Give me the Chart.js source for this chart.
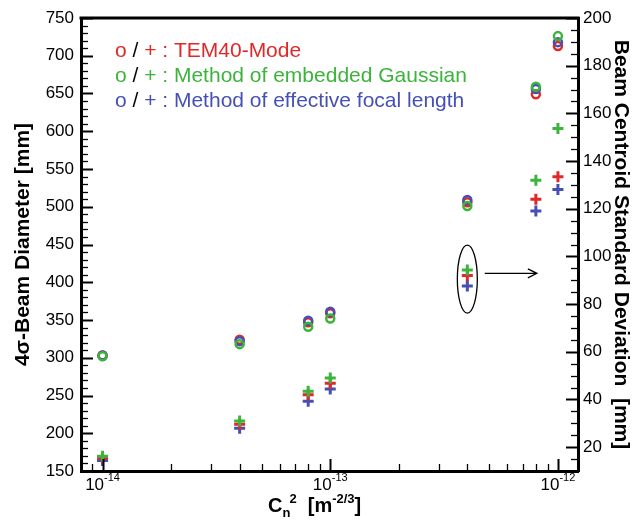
<!DOCTYPE html>
<html>
<head>
<meta charset="utf-8">
<script src="https://cdn.jsdelivr.net/npm/chart.js@4.4.1/dist/chart.umd.min.js"></script>
<style>
    html, body { margin: 0; padding: 0; background: #fff; }
</style>
</head>
<body>
<canvas id="beamGraph" width="633" height="520"></canvas>
<script>
    // Cn^2 values (m^-2/3)
    const cn2 = [1e-14, 4e-14, 8e-14, 1e-13, 4e-13, 8e-13, 1e-12];

    // 4-sigma beam diameter (mm), left axis
    const diamTEM = [303, 324, 347, 359, 506, 649, 713];
    const diamGauss = [302, 318, 341, 352, 501, 659, 726];
    const diamFocal = [303, 322, 349, 361, 509, 656, 718];

    // beam centroid standard deviation (mm), right axis
    const sdTEM = [15.3, 29.6, 42, 46.8, 92, 124, 133.4];
    const sdGauss = [16.2, 31, 43.5, 49, 94.3, 132, 153.7];
    const sdFocal = [14.4, 27.9, 39.3, 44.4, 87.6, 119, 128.1];

    const diamTicks = [150, 200, 250, 300, 350, 400, 450, 500, 550, 600, 650, 700, 750];
    const sdTicks = [20, 40, 60, 80, 100, 120, 140, 160, 180, 200];
    const cnDecades = [1e-14, 1e-13, 1e-12];
    const cnExponents = ['-14', '-13', '-12'];

    const legendLines = [
        { color: '#e02828', text: ': TEM40-Mode' },
        { color: '#3cb43c', text: ': Method of embedded Gaussian' },
        { color: '#4650b4', text: ': Method of effective focal length' }
    ];

    // callout around the 4e-13 crosses
    const calloutCn2 = 4e-13, calloutSd = 90.5;
    const arrowFrom = 4.77e-13, arrowTo = 8.08e-13, arrowSd = 92.9;

    const FONT = 'Liberation Sans, Arial, sans-serif';
    const RED = '#e02828', GREEN = '#3cb43c', BLUE = '#4650b4';

    function pts(ys) {
        return cn2.map((c, i) => ({ x: c, y: ys[i] }));
    }

    function circles(ys, color, order) {
        return {
            data: pts(ys), yAxisID: 'y', order: order,
            pointStyle: 'circle', pointRadius: 4, pointBorderWidth: 2.5,
            borderColor: color, backgroundColor: 'rgba(0,0,0,0)', showLine: false
        };
    }

    function crosses(ys, color, order) {
        return {
            data: pts(ys), yAxisID: 'y2', order: order,
            pointStyle: 'cross', pointRadius: 5.5, pointBorderWidth: 3,
            borderColor: color, backgroundColor: color, showLine: false
        };
    }

    const decorations = {
        id: 'decorations',
        afterDraw(chart) {
            const ctx = chart.ctx;
            const a = chart.chartArea;
            const x = chart.scales.x, y = chart.scales.y, y2 = chart.scales.y2;
            ctx.save();
            ctx.strokeStyle = '#000';
            ctx.fillStyle = '#000';

            // top frame line
            ctx.lineWidth = 3;
            ctx.beginPath();
            ctx.moveTo(a.left - 1.5, a.top);
            ctx.lineTo(a.right + 1.5, a.top);
            ctx.stroke();

            function line(x1, y1, x2, y2w, w) {
                ctx.lineWidth = w;
                ctx.beginPath();
                ctx.moveTo(x1, y1);
                ctx.lineTo(x2, y2w);
                ctx.stroke();
            }

            // left axis ticks (inward)
            for (let v = 150; v <= 750; v += 10) {
                const py = Math.round(y.getPixelForValue(v)) + 0.5;
                const major = v % 50 === 0;
                line(a.left, py, a.left + (major ? 12 : 7), py, major ? 2 : 1.3);
            }
            // right axis ticks (inward)
            for (let v = 15; v <= 200; v += 5) {
                const py = Math.round(y2.getPixelForValue(v)) + 0.5;
                const major = v % 20 === 0;
                line(a.right, py, a.right - (major ? 12 : 7), py, major ? 2 : 1.3);
            }
            // bottom axis ticks (inward)
            for (let n = -15; n <= -12; n++) {
                for (let k = 1; k <= 9; k++) {
                    const v = k * Math.pow(10, n);
                    if (v < x.min || v > x.max) continue;
                    const px = Math.round(x.getPixelForValue(v)) + 0.5;
                    const major = k === 1;
                    line(px, a.bottom, px, a.bottom - (major ? 12 : 7), major ? 2 : 1.3);
                }
            }

            // x tick labels 10^n
            ctx.textBaseline = 'alphabetic';
            ctx.textAlign = 'left';
            cnDecades.forEach((v, i) => {
                const px = x.getPixelForValue(v);
                ctx.font = '17px ' + FONT;
                const wBase = ctx.measureText('10').width;
                ctx.font = '11px ' + FONT;
                const wExp = ctx.measureText(cnExponents[i]).width;
                const start = px - (wBase + wExp) / 2;
                ctx.font = '17px ' + FONT;
                ctx.fillText('10', start, 490);
                ctx.font = '11px ' + FONT;
                ctx.fillText(cnExponents[i], start + wBase, 481);
            });

            // x axis title  Cn^2  [m^-2/3]
            let tx = 268;
            const parts = [
                ['C', 20, 0], ['n', 13, 5], ['2', 13, -9], ['  [m', 20, 0], ['-2/3', 13, -9], [']', 20, 0]
            ];
            parts.forEach((p, i) => {
                ctx.font = 'bold ' + p[1] + 'px ' + FONT;
                let w = ctx.measureText(p[0]).width;
                ctx.fillText(p[0], tx, 512 + p[2]);
                if (i === 1) w -= 1;
                tx += w;
            });

            // legend text
            ctx.font = '21px ' + FONT;
            legendLines.forEach((l, i) => {
                const by = 56.7 + i * 25.2;
                let lx = 115;
                const seg = [['o', l.color], [' / ', '#000'], ['+', l.color], [' ' + l.text, l.color]];
                seg.forEach(s => {
                    ctx.fillStyle = s[1];
                    ctx.fillText(s[0], lx, by);
                    lx += ctx.measureText(s[0]).width;
                });
            });

            // ellipse callout and arrow
            ctx.strokeStyle = '#000';
            ctx.lineWidth = 1.3;
            const ex = x.getPixelForValue(calloutCn2);
            const ey = y2.getPixelForValue(calloutSd);
            ctx.beginPath();
            ctx.ellipse(ex, ey, 10, 34, 0, 0, Math.PI * 2);
            ctx.stroke();

            const ax1 = x.getPixelForValue(arrowFrom);
            const ax2 = x.getPixelForValue(arrowTo);
            const ay = y2.getPixelForValue(arrowSd);
            ctx.beginPath();
            ctx.moveTo(ax1, ay);
            ctx.lineTo(ax2, ay);
            ctx.moveTo(ax2 - 9, ay - 4.5);
            ctx.lineTo(ax2, ay);
            ctx.lineTo(ax2 - 9, ay + 4.5);
            ctx.stroke();

            ctx.restore();
        }
    };

    const ctx = document.getElementById('beamGraph').getContext('2d');
    const beamGraph = new Chart(ctx, {
        type: 'scatter',
        data: {
            datasets: [
                circles(diamTEM, RED, 5),
                circles(diamFocal, BLUE, 4),
                circles(diamGauss, GREEN, 3),
                crosses(sdFocal, BLUE, 2),
                crosses(sdTEM, RED, 1),
                crosses(sdGauss, GREEN, 0)
            ]
        },
        options: {
            responsive: false,
            animation: false,
            devicePixelRatio: 1,
            layout: { padding: { top: 18, left: 0, right: 0, bottom: 0 } },
            plugins: {
                legend: { display: false },
                tooltip: { enabled: false }
            },
            scales: {
                x: {
                    type: 'logarithmic',
                    position: 'bottom',
                    min: 8.04e-15,
                    max: 1.225e-12,
                    ticks: { display: false },
                    grid: { display: false, drawTicks: false },
                    border: { display: true, width: 3, color: '#000' },
                    afterFit(s) { s.height = 49; }
                },
                y: {
                    type: 'linear',
                    position: 'left',
                    min: 150,
                    max: 750,
                    afterBuildTicks(s) { s.ticks = diamTicks.map(v => ({ value: v })); },
                    ticks: { color: '#000', padding: 7, font: { family: FONT, size: 17 } },
                    grid: { display: false, drawTicks: false },
                    border: { display: true, width: 3, color: '#000' },
                    title: {
                        display: true,
                        text: '4σ-Beam Diameter [mm]',
                        color: '#000',
                        font: { family: FONT, size: 21, weight: 'bold' },
                        padding: { top: 11, bottom: 0 }
                    },
                    afterFit(s) { s.width = 81; }
                },
                y2: {
                    type: 'linear',
                    position: 'right',
                    min: 10,
                    max: 200,
                    afterBuildTicks(s) { s.ticks = sdTicks.map(v => ({ value: v })); },
                    ticks: { color: '#000', padding: 5, font: { family: FONT, size: 17 } },
                    grid: { display: false, drawTicks: false },
                    border: { display: true, width: 3, color: '#000' },
                    title: {
                        display: true,
                        text: 'Beam Centroid Standard Deviation  [mm]',
                        color: '#000',
                        font: { family: FONT, size: 21, weight: 'bold' },
                        padding: { top: 0, bottom: 0 }
                    },
                    afterFit(s) { s.width = 55; }
                }
            }
        },
        plugins: [decorations]
    });
</script>
</body>
</html>
